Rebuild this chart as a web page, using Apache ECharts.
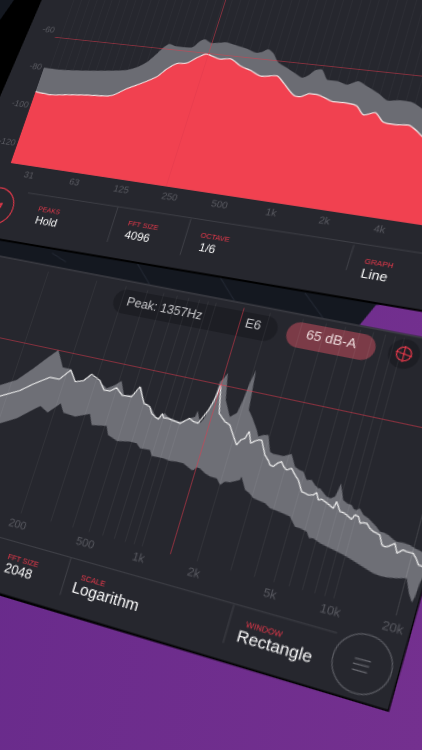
<!DOCTYPE html>
<html>
<head>
<meta charset="utf-8">
<style>
html,body{margin:0;height:100%;overflow:hidden;background:linear-gradient(100deg,#672a8b,#74308f)}
#chart{position:absolute;left:0;top:0;width:1300px;height:1400px;transform-origin:0 0}
</style>
<script src="https://cdn.jsdelivr.net/npm/echarts@6/dist/echarts.min.js"></script>
</head>
<body>
<div id="chart"></div>
<script>
// top screen: octave spectrum
var topLabels=['31','63','125','250','500','1k','2k','4k'];
var topDbTicks=[-120,-100,-80,-60];
var topPeakHz=[19.9,22.6,27.4,35.4,47.7,60.9,77.3,88.2,99.4,110,118,127,141,160,178,192,204,227,255,279,316,377,438,468,506,550,609,695,793,887,951,1020,1100,1250,1400,1610,1840,2080,2470,2860,3300,3820,4430,5270,8320];
var topPeakDb=[-80.3,-79.8,-79.9,-79.4,-78.4,-77.4,-76.1,-74.2,-71.1,-66.4,-62.7,-60.6,-61.5,-61.5,-61.0,-57.6,-56.5,-58.0,-57.4,-56.9,-57.8,-59.0,-60.5,-59.9,-58.2,-59.9,-64.1,-66.2,-68.5,-70.2,-68.8,-66.0,-65.2,-70.0,-70.0,-71.2,-69.0,-70.8,-73.6,-76.5,-75.7,-75.9,-78.4,-82.9,-90.1];
var topLevelHz=[22.4,28.3,36.3,48.8,67.3,73.5,84.6,100,123,136,153,176,197,223,247,274,313,370,432,517,629,706,867,927,1040,1190,1450,1650,1970,2230,2540,2910,3380,3970,4850,5750,9040];
var topLevelDb=[-92.6,-93.2,-92.2,-91.1,-90.2,-89.0,-85.5,-82.3,-77.7,-73.5,-70.1,-69.3,-66.2,-63.7,-64.7,-65.5,-64.8,-67.7,-69.4,-71.7,-70.6,-73.6,-79.3,-79.4,-77.4,-77.7,-79.9,-79.8,-80.6,-84.4,-82.7,-86.7,-87.1,-86.6,-90.8,-94.9,-101.9];
var topCrossHz=229,topCrossDb=-63.2;

// bottom screen: FFT spectrum
var lowLabels={200:'200',500:'500',1000:'1k',2000:'2k',5000:'5k',10000:'10k',20000:'20k'};
var lowUpperHz=[47,86.8,106,126,144,162,185,209,233,255,274,318,355,390,417,454,510,548,602,629,674,707,745,775,809,855,894,950,1000,1060,1110,1180,1190,1280,1320,1350,1370,1390,1400,1450,1490,1600,1780,1910,1960,2000,2060,2170,2310,2550,2650,2790,2960,3190,3330,3540,3760,4100,4430,4700,4940,5260,5560,5860,6140,6250,6630,6890,7240,7550,7670,7740,8340,8790,9260,9610,9910,10200,10800,11500,12300,12800,13500,14100,14900,15800,16500,17700,19100,20300,21500,22800];
var lowUpperDb=[-92.6,-80.9,-77.0,-70.3,-64.6,-59.8,-67.0,-67.0,-71.9,-70.5,-67.7,-69.7,-71.9,-69.7,-67.3,-73.1,-72.2,-67.9,-74.7,-74.7,-76.1,-78.0,-79.8,-78.4,-76.9,-78.3,-78.4,-78.9,-79.0,-77.8,-76.7,-75.5,-72.8,-77.8,-75.4,-71.5,-68.7,-65.4,-58.7,-56.8,-54.4,-65.8,-72.4,-70.1,-64.3,-56.6,-50.7,-67.8,-70.4,-75.3,-77.8,-76.7,-76.2,-82.8,-83.4,-83.3,-83.3,-81.7,-86.4,-87.3,-87.6,-90.6,-90.1,-91.8,-92.8,-92.6,-94.2,-95.2,-95.5,-94.4,-91.6,-88.7,-95.0,-95.9,-96.1,-97.5,-97.6,-96.6,-98.8,-99.6,-101.1,-102.0,-103.6,-103.6,-104.1,-105.2,-105.8,-105.6,-105.8,-106.6,-107.0,-107.7];
var lowLowerHz=[55.9,103,126,151,163,184,210,226,267,319,341,413,435,499,587,641,680,773,807,879,937,1020,1110,1210,1370,1400,1440,1500,1620,1740,1890,2010,2100,2230,2480,2500,2720,2890,3070,3310,3560,3830,4070,4480,4900,5340,5670,6170,6450,6760,7380,8000,8850,9800,10900,12000,13000,14100,15300,16400,18200,20200,21500,22700,23100,23400,24200];
var lowLowerDb=[-108.7,-97.5,-93.6,-88.1,-85.9,-88.0,-82.8,-86.5,-87.0,-84.4,-88.9,-87.8,-91.4,-93.1,-92.0,-92.1,-93.8,-93.5,-95.8,-95.7,-95.6,-96.0,-95.7,-95.7,-97.6,-97.4,-96.0,-96.1,-97.6,-98.4,-98.5,-100.8,-99.0,-98.8,-96.9,-95.4,-100.3,-101.2,-102.8,-103.2,-103.6,-105.1,-105.3,-105.8,-106.4,-109.8,-109.9,-110.6,-112.8,-112.5,-113.7,-114.3,-115.0,-115.8,-116.9,-118.0,-118.9,-119.8,-120.1,-120.0,-119.4,-118.4,-123.7,-126.8,-124.3,-119.0,-113.5];
var lowLevelHz=[49.3,91.2,116,135,163,186,208,231,256,277,316,346,375,402,445,503,537,602,654,687,725,763,785,809,858,899,954,1010,1060,1110,1180,1250,1300,1350,1390,1410,1430,1550,1640,1710,1750,1830,1970,2120,2190,2290,2320,2350,2480,2590,2680,2790,3040,3220,3330,3470,3600,3750,3930,4080,4290,4550,4800,5160,5380,5610,5930,6110,6360,6580,6870,7280,7680,7800,8330,8660,9040,9650,9880,10300,10700,11000,11500,12000,12600,13100,13600,14300,14800,15300,15800,16300,17100,18000,18800,20200,21100,22000,23600];
var lowLevelDb=[-96.9,-85.7,-81.3,-77.1,-72.6,-72.5,-67.4,-72.0,-70.8,-67.3,-69.2,-72.9,-72.7,-70.7,-73.4,-73.1,-68.1,-74.7,-75.5,-78.2,-79.3,-80.0,-77.3,-78.9,-78.7,-79.1,-79.3,-79.7,-78.1,-76.7,-77.7,-77.9,-74.7,-71.5,-67.6,-64.5,-60.0,-71.9,-73.6,-74.8,-74.2,-75.7,-79.5,-83.2,-80.8,-79.7,-77.9,-76.6,-81.2,-79.9,-79.2,-78.9,-84.6,-86.5,-88.1,-88.4,-86.7,-85.7,-87.7,-88.5,-87.4,-89.7,-91.4,-95.6,-95.9,-96.3,-95.8,-94.6,-97.3,-96.7,-97.3,-98.2,-99.1,-96.2,-99.7,-99.8,-100.4,-101.6,-99.6,-99.9,-102.3,-101.8,-101.7,-103.3,-104.2,-104.5,-104.9,-108.4,-108.8,-108.4,-107.5,-106.6,-110.1,-108.3,-108.6,-108.6,-110.2,-112.4,-112.7];
var lowCrossHz=1430,lowCrossDb=-60;

// the whole picture lies on one tilted plane: vanishing points and a screen -> plane mapping
var VH=[-2868,-272],VV=[2025,-5630],O=[200,400],A=-1/3068,B=-1/6030,P=560,Q=720;
function toFlat(x,y){
  var a1=VH[0]-x,b1=VV[0]-x,c1=x-O[0],a2=VH[1]-y,b2=VV[1]-y,c2=y-O[1],d=a1*b2-a2*b1;
  return {u:(c1*b2-c2*b1)/d/A+P,v:(a1*c2-a2*c1)/d/B+Q};
}
var el=document.getElementById('chart');
el.style.transform='matrix3d('+[VH[0]*A,VH[1]*A,0,A,VV[0]*B,VV[1]*B,0,B,0,0,1,0,O[0]-(VH[0]*A*P+VV[0]*B*Q),O[1]-(VH[1]*A*P+VV[1]*B*Q),0,1-A*P-B*Q].join(',')+')';

// axis scales, from where the tick labels sit
var u31=toFlat(29,175).u,u4k=toFlat(380,228).u,slope1=(u4k-u31)/7;
var v60=toFlat(47,30).v,v120=toFlat(6,142).v,slopeDb=(v120-v60)/-60;
function oct1(u){return Math.log2(31.25)+(u-u31)/slope1}
function db1(v){return -60+(v-v60)/slopeDb}
var u200=toFlat(18,523).u,u20k=toFlat(393,627).u,slope2=(u20k-u200)/2,v60b=toFlat(0,338).v;
function lg2(u){return Math.log10(200)+(u-u200)/slope2}
function db2(v){return -60+(v-v60b)/slopeDb}

var g1L=toFlat(11,163).u,g1R=toFlat(480,240).u,g1T=toFlat(226,-20).v,g1B=toFlat(11,163).v;
var g2L=toFlat(-100,400).u,g2R=toFlat(388,710).u,g2T=toFlat(244,308).v,g2B=toFlat(170,554).v;

var ticks1=[];for(var i=-3;i<=60;i++)ticks1.push(Math.log2(31.25)+i/6);
var ticks2=[];[100,1000,10000].forEach(function(d){for(var k=1;k<=9;k++)ticks2.push(Math.log10(d*k))});ticks2.push(Math.log10(20000));

function poly(pts,fill){return {type:'polygon',shape:{points:pts.map(function(p){var f=toFlat(p[0],p[1]);return [f.u,f.v]})},style:{fill:fill}}}
function seg(a,b,c,w){var f=toFlat(a[0],a[1]),g=toFlat(b[0],b[1]);return {type:'line',shape:{x1:f.u,y1:f.v,x2:g.u,y2:g.v},style:{stroke:c,lineWidth:w||1}}}
function txt(x,y,s,size,c){var f=toFlat(x,y);return {type:'text',x:f.u,y:f.v,style:{text:s,fontSize:size,fontFamily:'Liberation Sans',fill:c,align:'center',verticalAlign:'middle'}}}
function circ(x,y,r,st){var f=toFlat(x,y);return {type:'circle',shape:{cx:f.u,cy:f.v,r:r},style:st}}
function pill(a,b,h,fill){var f=toFlat(a[0],a[1]),g=toFlat(b[0],b[1]),m=(f.v+g.v)/2;return {type:'rect',shape:{x:f.u,y:m-h/2,width:g.u-f.u,height:h,r:h/2},style:{fill:fill}}}

var RED='#e8394b',PANEL='#26272e',LINE='#3f4047',TICK='#5a5b62';
var graphics=[
  poly([[0,-10],[600,-10],[600,300],[376,305],[358,327],[0,327],[-100,300]],'#141820'),
  seg([137,263],[157,297],'#232833'),seg([220,277],[237,305],'#232833'),seg([305,293],[323,318],'#232833'),seg([52,253],[66,262],'#232833'),
  poly([[21,-10],[600,-10],[600,342],[-57,231],[-70,120]],'#000'),
  poly([[46,-10],[600,-10],[600,340],[-57,229]],PANEL),
  poly([[-100,238],[491,350],[389,712],[-100,566]],'#000'),
  poly([[-100,236],[490,350],[388,710],[-100,563]],PANEL),
  seg([-100,237],[490,351],'#3a3b42',1.5),
  // top footer
  seg([28,193],[480,262],LINE),seg([118,207],[107,242],LINE),seg([191,219],[180,255],LINE),seg([354,245],[346,270],LINE),
  circ(-5,206,21,{fill:'transparent',stroke:RED,lineWidth:1.2}),
  poly([[0,203],[3,203],[0,209]],RED),
  txt(49,211,'PEAKS',7.5,RED),txt(46,222,'Hold',12,'#fff'),
  txt(143,226,'FFT SIZE',7.5,RED),txt(137,237,'4096',12,'#fff'),
  txt(215,238,'OCTAVE',7.5,RED),txt(207,249,'1/6',12,'#fff'),
  txt(379,264,'GRAPH',7.5,RED),txt(374,276,'Line',13,'#fff'),
  // bottom header
  pill([113,302],[278,328],25,'#1d1e24'),
  txt(164,309,'Peak: 1357Hz',12.5,'#c9c9cc'),txt(253,325,'E6',12.5,'#c9c9cc'),
  pill([286,335],[376,347],25,'#7b3b47'),
  txt(331,340,'65 dB-A',13,'#f0dfe0'),
  circ(404,354,14,{fill:'#1d1e24'}),circ(404,354,6.5,{fill:'transparent',stroke:RED,lineWidth:1.1}),circ(404,354,1,{fill:RED}),
  seg([396,351],[412,357],RED),seg([406,346],[402,362],RED),
  // bottom footer
  seg([-40,526],[337,633],LINE),seg([71,558],[60,595],LINE),seg([234,605],[223,643],LINE),
  txt(23,561,'FFT SIZE',7.5,RED),txt(18,572,'2048',13,'#fff'),
  txt(93,581,'SCALE',7.5,RED),txt(105,597,'Logarithm',15,'#fff'),
  txt(264,630,'WINDOW',7.5,RED),txt(274,647,'Rectangle',15,'#fff'),
  circ(362,664,25,{fill:'transparent',stroke:'#5e5f66',lineWidth:1}),
  seg([355,658],[371,662],'#6e6f76'),seg([353,663],[369,667],'#6e6f76'),seg([352,669],[367,673],'#6e6f76')
];

function pairs1(hz,db){return hz.map(function(h,i){return [Math.log2(h),db[i]]})}
function pairs2(hz,db){return hz.map(function(h,i){return [Math.log10(h),db[i]]})}
var outline=pairs2(lowUpperHz,lowUpperDb).concat(pairs2(lowLowerHz,lowLowerDb).reverse());
var crossLine={color:'rgba(226,58,76,0.5)',width:1,type:'solid'};

var chart=echarts.init(el,null,{devicePixelRatio:2});
chart.setOption({
  animation:false,
  graphic:{elements:graphics},
  grid:[
    {left:g1L,top:g1T,width:g1R-g1L,height:g1B-g1T},
    {left:g2L,top:g2T,width:g2R-g2L,height:g2B-g2T}
  ],
  xAxis:[
    {gridIndex:0,type:'value',z:3,min:oct1(g1L),max:oct1(g1R),
     axisLine:{show:false},axisTick:{show:false,customValues:ticks1},
     splitLine:{show:true,lineStyle:{color:'rgba(255,255,255,0.03)',width:1}},
     axisLabel:{margin:6,color:TICK,fontSize:10,fontFamily:'Liberation Sans',
       customValues:topLabels.map(function(s,i){return Math.log2(31.25)+i}),
       formatter:function(v){return topLabels[Math.round(v-Math.log2(31.25))]}}},
    {gridIndex:1,type:'value',z:3,min:lg2(g2L),max:lg2(g2R),
     axisLine:{show:false},axisTick:{show:false,customValues:ticks2},
     splitLine:{show:true,lineStyle:{color:'rgba(255,255,255,0.05)',width:1}},
     axisLabel:{margin:6,color:TICK,fontSize:11,fontFamily:'Liberation Sans',
       customValues:Object.keys(lowLabels).map(function(k){return Math.log10(+k)}),
       formatter:function(v){return lowLabels[Math.round(Math.pow(10,v))]}}}
  ],
  yAxis:[
    {gridIndex:0,type:'value',min:db1(g1B),max:db1(g1T),
     axisLine:{show:false},axisTick:{show:false},splitLine:{show:false},
     axisLabel:{margin:3,color:TICK,fontSize:10,fontFamily:'Liberation Sans',customValues:topDbTicks}},
    {gridIndex:1,type:'value',min:db2(g2B),max:db2(g2T),
     axisLine:{show:false},axisTick:{show:false},splitLine:{show:false},axisLabel:{show:false}}
  ],
  series:[
    {type:'line',xAxisIndex:0,yAxisIndex:0,showSymbol:false,smooth:0.25,data:pairs1(topPeakHz,topPeakDb),lineStyle:{width:0},areaStyle:{color:'#6b6c73',opacity:1,origin:'start'}},
    {type:'line',xAxisIndex:0,yAxisIndex:0,showSymbol:false,smooth:0.25,data:pairs1(topLevelHz,topLevelDb),lineStyle:{color:'#f4e6e6',width:1.2},areaStyle:{color:'#f14150',opacity:1,origin:'start'},
     markLine:{silent:true,symbol:'none',label:{show:false},lineStyle:crossLine,animation:false,
       data:[[{coord:[Math.log2(topCrossHz),db1(g1T)]},{coord:[Math.log2(topCrossHz),db1(g1B)]}],[{coord:[oct1(toFlat(55,37).u),topCrossDb]},{coord:[oct1(g1R),topCrossDb]}]]}},
    {type:'custom',xAxisIndex:1,yAxisIndex:1,data:[outline[0]],encode:{x:0,y:1},
     renderItem:function(p,api){return {type:'polygon',shape:{points:outline.map(function(q){return api.coord(q)})},style:{fill:'#6e6f76'}}}},
    {type:'line',xAxisIndex:1,yAxisIndex:1,showSymbol:false,data:pairs2(lowLevelHz,lowLevelDb),lineStyle:{color:'#f2f2f2',width:1.1},
     markLine:{silent:true,symbol:'none',label:{show:false},lineStyle:crossLine,animation:false,
       data:[[{coord:[Math.log10(lowCrossHz),db2(g2T)]},{coord:[Math.log10(lowCrossHz),db2(g2B)]}],[{coord:[lg2(g2L),lowCrossDb]},{coord:[lg2(g2R),lowCrossDb]}]]}}
  ]
});
</script>
</body>
</html>
